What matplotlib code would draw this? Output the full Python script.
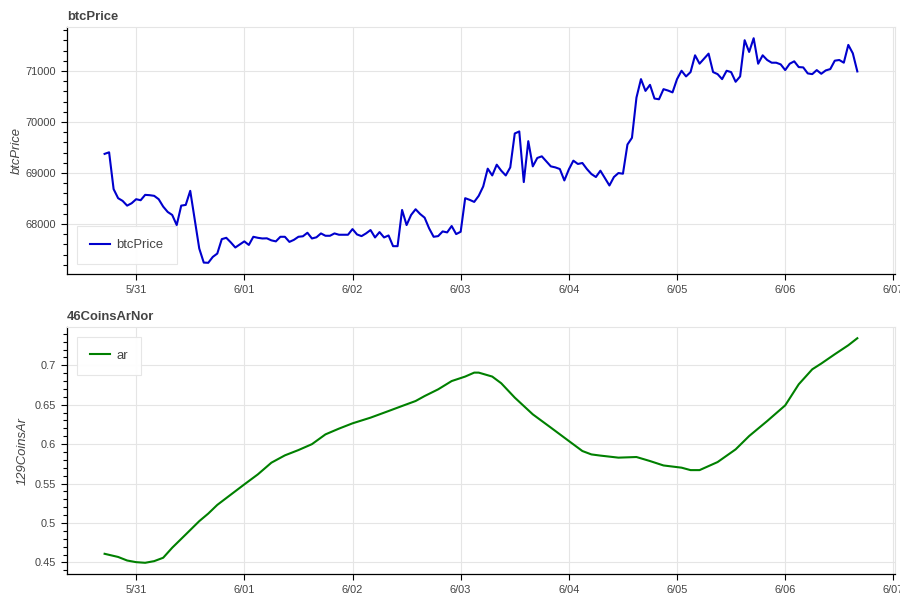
import matplotlib
matplotlib.use("Agg")
from matplotlib import pyplot as plt
from matplotlib import dates as mdates
from matplotlib.ticker import MultipleLocator, FuncFormatter
import pandas as pd

plt.rcParams['font.family'] = ['Liberation Sans', 'DejaVu Sans']

# hourly btc price, 5/30 17:00 -> 6/06 16:00
start = pd.Timestamp("2024-05-30 17:00")
btc_price = [
    69376, 69407, 68685, 68507, 68454, 68361, 68408, 68487, 68467, 68572,
    68566, 68553, 68487, 68342, 68237, 68178, 67980, 68361, 68375, 68651,
    68079, 67520, 67244, 67240, 67355, 67421, 67704, 67730,
    67640, 67540, 67600, 67660, 67590, 67750, 67730, 67717, 67720, 67680,
    67660, 67750, 67750, 67650, 67690, 67750, 67760, 67829, 67717, 67740,
    67816, 67770, 67770, 67816, 67790, 67790, 67790, 67901, 67796,
    67763, 67816, 67882, 67737, 67842, 67737, 67776, 67566, 67566, 68276,
    67980, 68178, 68290, 68197, 68125, 67915, 67750, 67763, 67855, 67836,
    67961, 67803, 67849, 68507, 68474, 68434, 68553, 68737, 69086,
    68953, 69164, 69046, 68953, 69111, 69776, 69816, 68823, 69625, 69131,
    69296, 69328, 69230, 69131, 69111, 69079, 68855, 69072, 69243, 69178,
    69197, 69079, 68981, 68922, 69046, 68902, 68756, 68922, 69000,
    68987, 69559, 69691, 70480, 70842, 70611, 70730, 70461, 70447, 70645,
    70618, 70582, 70842, 71006, 70895, 70980, 71309, 71145, 71244, 71342,
    70980, 70940, 70842, 71006, 70980, 70790, 70895,
    71605, 71375, 71644, 71144, 71309, 71217, 71164, 71164, 71131, 71019,
    71144, 71191, 71078, 71072, 70954, 70940, 71019, 70947, 71013, 71039,
    71204, 71217, 71164, 71513, 71348, 70993,
]
btc_time = pd.date_range(start, periods=len(btc_price), freq="h")

# ar series, read at hour offsets from start
ar_hours = [0, 3, 5, 7, 9, 11, 13, 15, 18, 21, 23, 25, 28, 31, 34, 37, 40, 43,
            46, 49, 52, 55, 59, 63, 66, 69, 71, 74, 77, 80, 82, 83, 86, 88,
            91, 95, 99, 103, 106, 108, 110, 114, 118, 121, 124, 128, 130, 132,
            136, 140, 143, 147, 151, 154, 157, 159, 162, 165, 167]
ar_values = [0.461, 0.457, 0.4525, 0.4504, 0.4496, 0.4517, 0.456, 0.4687, 0.4855,
             0.5024, 0.512, 0.523, 0.536, 0.549, 0.5617, 0.5765, 0.5858, 0.5925,
             0.600, 0.6124, 0.6197, 0.6264, 0.6336, 0.642, 0.6484, 0.6547, 0.661,
             0.6695, 0.680, 0.6857, 0.6907, 0.6907, 0.6857, 0.6772, 0.659, 0.6378,
             0.621, 0.604, 0.5913, 0.587, 0.5855, 0.5829, 0.5837, 0.5786, 0.573,
             0.5702, 0.5671, 0.5671, 0.5773, 0.5934, 0.6103, 0.6293, 0.6492,
             0.6759, 0.6949, 0.7022, 0.714, 0.7254, 0.7343]
ar_time = start + pd.to_timedelta(ar_hours, unit="h")

TXT = '#444444'
GRID = '#e5e5e5'


def style(ax, title, ylabel, minor_step, lpad):
    ax.set_title(title, loc='left', fontsize=9.4, fontweight='bold', color=TXT, pad=5)
    ax.set_ylabel(ylabel, fontsize=9.4, style='italic', color=TXT, labelpad=lpad)
    ax.margins(x=0.05, y=0.05)
    ax.grid(True, color=GRID, linewidth=0.8)
    ax.set_axisbelow(True)
    for s in ['top', 'right']:
        ax.spines[s].set_color(GRID)
        ax.spines[s].set_linewidth(0.8)
    for s in ['left', 'bottom']:
        ax.spines[s].set_color('black')
        ax.spines[s].set_linewidth(0.9)
    ax.xaxis.set_major_locator(mdates.DayLocator())
    ax.xaxis.set_major_formatter(FuncFormatter(
        lambda v, p: "%d/%02d" % (mdates.num2date(v).month, mdates.num2date(v).day)))
    ax.yaxis.set_minor_locator(MultipleLocator(minor_step))
    ax.tick_params(which='major', length=4.5, width=0.8, colors='black',
                   labelcolor=TXT, labelsize=7.9, pad=3.5)
    ax.tick_params(which='minor', length=3, width=0.8, colors='black')
    ax.tick_params(axis='x', which='minor', length=0)
    leg = ax.legend(fontsize=9.4, handlelength=1.55, handletextpad=0.5,
                    borderpad=1.0, borderaxespad=0.75, fancybox=False,
                    edgecolor=GRID, framealpha=0.95, labelcolor=TXT)
    leg.get_frame().set_linewidth(0.8)
    return leg


fig = plt.figure(figsize=(9, 6), dpi=100)
ax1 = fig.add_axes([0.0744, 0.5433, 0.92, 0.4117])
ax2 = fig.add_axes([0.0744, 0.0433, 0.92, 0.4117])

ax1.plot(btc_time, btc_price, color='#0000cd', linewidth=1.5, label='btcPrice')
style(ax1, 'btcPrice', 'btcPrice', 200, 2)
ax1.legend_.set_loc('lower left')

ax2.plot(ar_time, ar_values, color='#008000', linewidth=1.5, label='ar')
style(ax2, '46CoinsArNor', '129CoinsAr', 0.01, 4.5)
ax2.legend_.set_loc('upper left')
ax2.yaxis.set_major_formatter(FuncFormatter(lambda v, p: ('%.2f' % v).rstrip('0').rstrip('.')))

fig.savefig("out.png", dpi=100)
